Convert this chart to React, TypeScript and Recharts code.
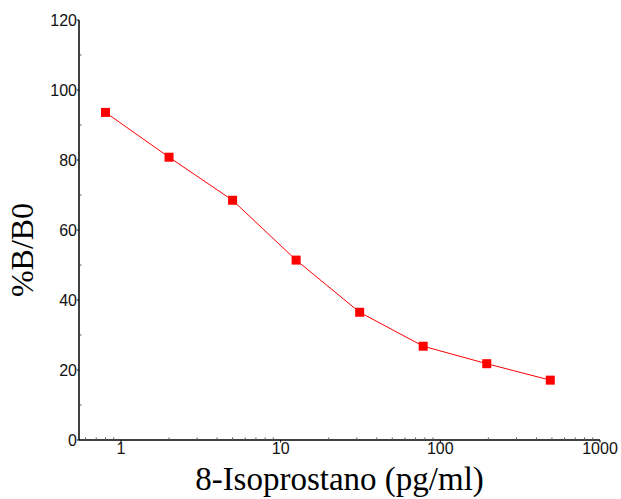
import { LineChart, Line, XAxis, YAxis, Label } from 'recharts';

// concentraciones del estándar (pg/ml) y %B/B0
const concentrations = [0.8, 2, 5, 12.5, 31.25, 78.125, 195.3, 488.3];
const bb0 = [93.6, 80.8, 68.5, 51.4, 36.5, 26.8, 21.8, 17.1];

const xMajorTicks = [1, 10, 100, 1000];
const xMinorTicks = [0.6, 0.7, 0.8, 0.9, 2, 3, 4, 5, 6, 7, 8, 9, 20, 30, 40, 50, 60, 70, 80, 90, 200, 300, 400, 500, 600, 700, 800, 900];
const yMajorTicks = [0, 20, 40, 60, 80, 100, 120];
const yMinorTicks = [10, 30, 50, 70, 90, 110];

const data = concentrations.map((c, i) => ({ conc: c, bb0: bb0[i] }));

const tickFont = '"Liberation Sans", Arial, sans-serif';
const labelFont = '"Liberation Serif", "Times New Roman", serif';

const XTick = (props: any) => {
    const { x, y, payload } = props;
    const major = xMajorTicks.includes(payload.value);
    const axisY = y - 3;
    return (
        <g>
            {major ? (
                <line x1={x} x2={x} y1={axisY} y2={axisY + 2.5} stroke="#000" strokeWidth={1} />
            ) : (
                <line x1={x} x2={x} y1={axisY} y2={axisY - 2.5} stroke="#555" strokeWidth={1} />
            )}
            {major && (
                <text x={x} y={y} dy="0.71em" textAnchor="middle" fontFamily={tickFont} fontSize={16} fill="#111">
                    {payload.value}
                </text>
            )}
        </g>
    );
};

const YTick = (props: any) => {
    const { x, y, payload } = props;
    const major = yMajorTicks.includes(payload.value);
    const axisX = x + 2;
    return (
        <g>
            {major ? (
                <line x1={axisX} x2={axisX - 2} y1={y} y2={y} stroke="#000" strokeWidth={1} />
            ) : (
                <line x1={axisX} x2={axisX + 2.5} y1={y} y2={y} stroke="#555" strokeWidth={1} />
            )}
            {major && (
                <text x={x} y={y} dy="0.355em" textAnchor="end" fontFamily={tickFont} fontSize={16} fill="#111">
                    {payload.value}
                </text>
            )}
        </g>
    );
};

const Square = (props: any) => {
    const { cx, cy } = props;
    if (cx == null || cy == null) return null;
    return <rect x={cx - 4.5} y={cy - 4.5} width={9} height={9} fill="#ff0000" />;
};

export default function App() {
    return (
        <div style={{ position: 'absolute', left: 0, top: 0, background: '#fff' }}>
            <LineChart width={621} height={499} data={data} margin={{ top: 20, right: 21, left: 0, bottom: 0 }}>
                <XAxis
                    dataKey="conc"
                    type="number"
                    scale="log"
                    domain={[0.546, 1000]}
                    ticks={[...xMajorTicks, ...xMinorTicks]}
                    interval={0}
                    allowDataOverflow
                    height={59}
                    tickSize={0}
                    tickMargin={3}
                    tickLine={false}
                    tick={<XTick />}
                    axisLine={{ stroke: '#000', strokeWidth: 1.5 }}
                >
                    <Label
                        content={({ viewBox }: any) => (
                            <text
                                x={viewBox.x + viewBox.width / 2}
                                y={viewBox.y + 50}
                                textAnchor="middle"
                                fontFamily={labelFont}
                                fontSize={33}
                                fill="#000"
                            >
                                8-Isoprostano (pg/ml)
                            </text>
                        )}
                    />
                </XAxis>
                <YAxis
                    type="number"
                    domain={[0, 120]}
                    ticks={[...yMajorTicks, ...yMinorTicks]}
                    interval={0}
                    width={79}
                    tickSize={0}
                    tickMargin={2}
                    tickLine={false}
                    tick={<YTick />}
                    axisLine={{ stroke: '#000', strokeWidth: 1.5 }}
                >
                    <Label
                        content={({ viewBox }: any) => {
                            const lx = viewBox.x + 33;
                            const ly = viewBox.y + viewBox.height / 2 + 20;
                            return (
                                <text
                                    x={lx}
                                    y={ly}
                                    transform={`rotate(-90 ${lx} ${ly})`}
                                    textAnchor="middle"
                                    fontFamily={labelFont}
                                    fontSize={32}
                                    fill="#000"
                                >
                                    %B/B0
                                </text>
                            );
                        }}
                    />
                </YAxis>
                <Line
                    dataKey="bb0"
                    stroke="#ff0000"
                    strokeWidth={1}
                    dot={<Square />}
                    activeDot={false}
                    isAnimationActive={false}
                />
            </LineChart>
        </div>
    );
}
